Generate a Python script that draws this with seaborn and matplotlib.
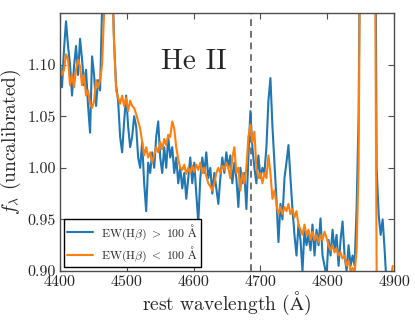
import numpy as np
import pandas as pd
import matplotlib
matplotlib.use("Agg")
import matplotlib.pyplot as plt
import seaborn as sns

# wavelength grid (Angstrom)
wavelength = np.arange(4400, 4900, 3)

flux_high_ew = [
    1.100, 1.078, 1.115, 1.142, 1.118, 1.100, 1.070, 1.098, 1.118, 1.090,
    1.125, 1.105, 1.080, 1.095, 1.060, 1.034, 1.108, 1.090, 1.060, 1.085,
    1.075, 1.160, 1.200, 1.250, 1.280, 1.250, 1.200, 1.120, 1.080, 1.065,
    1.030, 1.015, 1.045, 1.070, 1.040, 1.020, 1.030, 1.050, 1.040, 1.010,
    1.000, 1.025, 0.985, 0.958, 1.005, 0.995, 1.015, 1.000, 1.030, 1.045,
    1.010, 0.995, 1.020, 1.000, 1.030, 1.010, 1.020, 0.995, 1.010, 0.985,
    1.000, 0.980, 0.995, 0.970, 0.990, 1.010, 0.985, 1.005, 0.975, 0.947,
    0.990, 1.010, 0.995, 1.015, 0.990, 1.000, 0.975, 0.995, 0.980, 0.965,
    0.990, 1.010, 0.995, 1.015, 1.000, 1.012, 0.985, 1.005, 0.990, 0.962,
    1.000, 0.985, 0.995, 0.960, 1.010, 1.055, 1.020, 1.000, 0.985, 1.012,
    0.990, 1.000, 0.995, 1.020, 1.065, 1.087, 1.040, 1.005, 0.970, 0.928,
    0.965, 0.950, 0.990, 1.005, 1.022, 0.990, 0.960, 0.935, 0.915, 0.945,
    0.930, 0.900, 0.940, 0.925, 0.935, 0.920, 0.945, 0.915, 0.940, 0.925,
    0.951, 0.915, 0.905, 0.895, 0.930, 0.915, 0.940, 0.920, 0.935, 0.905,
    0.930, 0.948, 0.915, 0.900, 0.925, 0.905, 0.915, 0.905, 0.960, 1.050,
    1.300, 2.000, 3.000, 3.800, 4.000, 3.300, 2.200, 1.400, 1.000, 0.955,
    0.935, 0.950, 0.920, 0.885, 0.870, 0.860, 0.860,
]

flux_low_ew = [
    1.100, 1.090, 1.095, 1.110, 1.105, 1.080, 1.090, 1.078, 1.095, 1.105,
    1.098, 1.080, 1.090, 1.070, 1.075, 1.062, 1.058, 1.065, 1.085, 1.078,
    1.085, 1.100, 1.150, 1.220, 1.250, 1.220, 1.170, 1.120, 1.075, 1.068,
    1.062, 1.070, 1.060, 1.068, 1.055, 1.065, 1.060, 1.058, 1.052, 1.045,
    1.038, 1.025, 1.012, 1.020, 1.010, 1.015, 1.005, 1.012, 1.020, 1.015,
    1.025, 1.018, 1.028, 1.022, 1.032, 1.030, 1.045, 1.038, 1.020, 1.008,
    1.000, 0.998, 1.003, 0.994, 1.000, 0.995, 1.002, 0.996, 1.003, 0.998,
    1.005, 0.995, 1.000, 0.992, 0.985, 0.982, 0.978, 0.985, 0.995, 1.000,
    0.995, 1.002, 0.998, 1.005, 1.000, 0.990, 1.010, 1.020, 0.995, 1.000,
    0.978, 0.995, 0.985, 1.000, 1.030, 1.042, 1.025, 1.035, 1.000, 0.990,
    0.995, 0.985, 0.995, 0.990, 1.012, 0.995, 0.970, 0.978, 0.965, 0.955,
    0.962, 0.955, 0.962, 0.958, 0.965, 0.955, 0.960, 0.952, 0.958, 0.945,
    0.940, 0.935, 0.945, 0.935, 0.940, 0.930, 0.938, 0.930, 0.935, 0.928,
    0.935, 0.930, 0.938, 0.932, 0.925, 0.920, 0.925, 0.918, 0.922, 0.915,
    0.918, 0.912, 0.915, 0.905, 0.910, 0.900, 0.903, 0.898, 0.920, 1.000,
    1.300, 2.000, 3.000, 3.600, 3.800, 3.200, 2.100, 1.300, 0.900, 0.870,
    0.860, 0.860, 0.865, 0.870, 0.880, 0.890, 0.905,
]

labels = [r"$\mathrm{EW(H}\beta\mathrm{)}\ >\ 100\ \mathrm{\AA}$",
          r"$\mathrm{EW(H}\beta\mathrm{)}\ <\ 100\ \mathrm{\AA}$"]
colors = ["#1f77b4", "#ff7f0e"]
heii_wave = 4686
xticks = [4400, 4500, 4600, 4700, 4800, 4900]
yticks = [0.90, 0.95, 1.00, 1.05, 1.10]

sns.set_style("ticks")
plt.rcParams["font.family"] = ["cmr10", "DejaVu Serif"]
plt.rcParams["mathtext.fontset"] = "cm"
plt.rcParams["axes.formatter.use_mathtext"] = True

fig = plt.figure(figsize=(4.15, 3.22), dpi=100)
ax = fig.add_axes([0.1446, 0.1584, 0.8048, 0.8012])

df = pd.DataFrame({
    "wave": np.concatenate([wavelength, wavelength]),
    "flux": np.concatenate([flux_high_ew, flux_low_ew]),
    "group": [labels[0]] * len(wavelength) + [labels[1]] * len(wavelength),
})

sns.lineplot(data=df, x="wave", y="flux", hue="group", palette=colors,
             estimator=None, sort=False, lw=1.5, ax=ax)

ax.axvline(heii_wave, color="0.45", ls=(0, (3.5, 2.5)), lw=1.4, zorder=0)

ax.set_xlim(4400, 4900)
ax.set_ylim(0.90, 1.15)
ax.set_xticks(xticks)
ax.set_yticks(yticks)
ax.set_xticklabels([str(t) for t in xticks])
ax.set_yticklabels([f"{t:.2f}" for t in yticks])
ax.tick_params(direction="in", top=True, right=True, length=4, width=0.8,
               labelsize=11.5, pad=3, color="0.3")
for sp in ax.spines.values():
    sp.set_color("0.3")
    sp.set_linewidth(1.0)

ax.set_xlabel(r"rest wavelength ($\mathrm{\AA}$)", fontsize=14, labelpad=1)
ax.set_ylabel(r"$f_\lambda$ (uncalibrated)", fontsize=14, labelpad=3)

ax.text(0.401, 0.81, "He II", transform=ax.transAxes, fontsize=21,
        ha="center", va="center")

leg = ax.legend(loc="lower left", fontsize=8.5, frameon=True, fancybox=False,
                framealpha=1, edgecolor="black", handlelength=2.2,
                handletextpad=0.7, labelspacing=0.25, borderpad=0.3,
                borderaxespad=0.3, title=None)
leg.get_frame().set_linewidth(1.0)

fig.savefig("out.png", dpi=100)
